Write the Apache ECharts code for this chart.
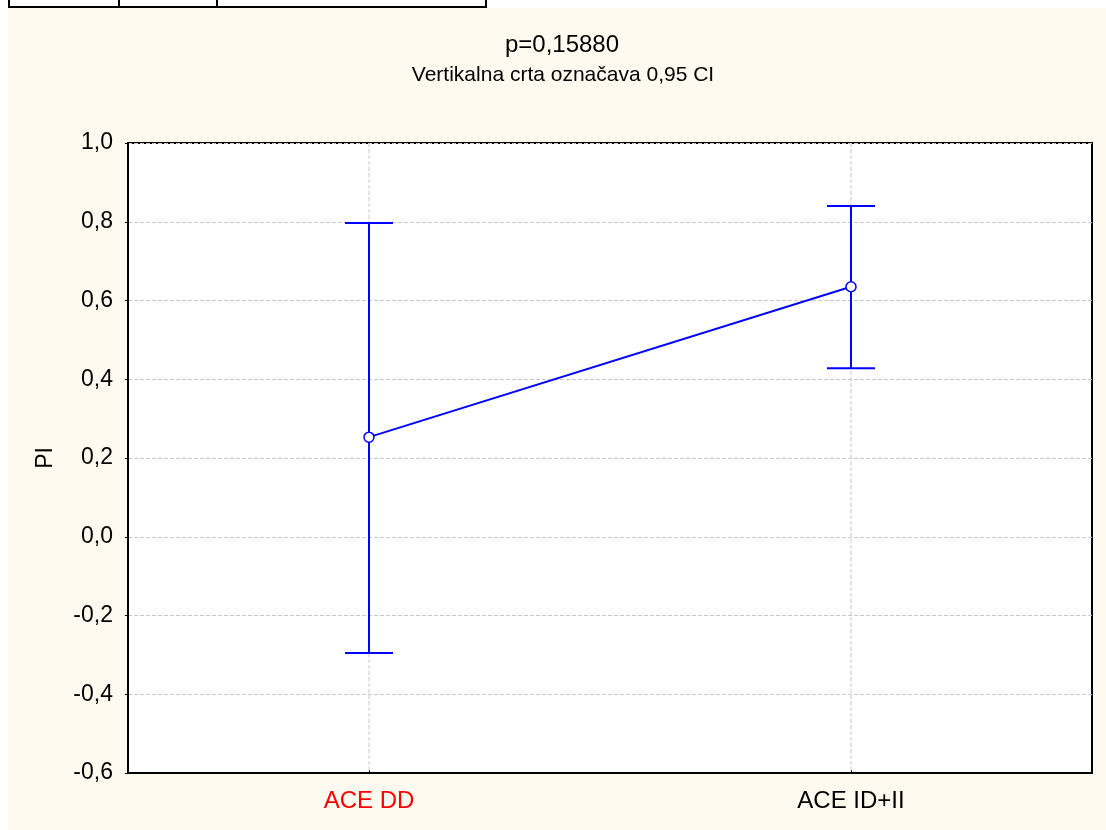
<!DOCTYPE html>
<html>
<head>
<meta charset="utf-8">
<script src="https://cdn.jsdelivr.net/npm/echarts@6/dist/echarts.min.js"></script>
<style>html,body{margin:0;padding:0;background:#fff;}#c{width:1106px;height:830px;}</style>
</head>
<body>
<div id="c"></div>
<script>
var categories = ['ACE DD', 'ACE ID+II'];
var means = [0.253, 0.635];
var lower = [-0.295, 0.428];
var upper = [0.797, 0.840];
var categoryColors = ['#ff0000', '#000000'];

var FONT = 'Liberation Sans, Arial, sans-serif';
var chart = echarts.init(document.getElementById('c'), null, {renderer: 'canvas'});

var errData = categories.map(function (c, i) { return [i, lower[i], upper[i]]; });
var GRID_LINE = {stroke: '#c8c8c8', lineWidth: 1, lineDash: [4, 2]};

chart.setOption({
  backgroundColor: '#ffffff',
  animation: false,
  title: [
    {text: 'p=0,15880', left: 557, top: 28, textAlign: 'center',
     textStyle: {fontFamily: FONT, fontSize: 24, fontWeight: 'normal', color: '#000'}},
    {text: 'Vertikalna crta označava 0,95 CI', left: 558, top: 60, textAlign: 'center',
     textStyle: {fontFamily: FONT, fontSize: 21, fontWeight: 'normal', color: '#000'}}
  ],
  graphic: [
    {type: 'rect', z: -100, silent: true, shape: {x: 8, y: 8, width: 1098, height: 822}, style: {fill: '#fffaf0'}},
    {type: 'polyline', silent: true, shape: {points: [[9, 0], [9, 7], [486, 7], [486, 0]]}, style: {stroke: '#000', lineWidth: 2, fill: null}},
    {type: 'line', silent: true, shape: {x1: 119, y1: 0, x2: 119, y2: 7}, style: {stroke: '#000', lineWidth: 2}},
    {type: 'line', silent: true, shape: {x1: 217, y1: 0, x2: 217, y2: 7}, style: {stroke: '#000', lineWidth: 2}}
  ],
  grid: {left: 128, right: 14, top: 143, bottom: 57, show: true, backgroundColor: '#ffffff', borderColor: '#000', borderWidth: 2},
  xAxis: {
    type: 'category',
    data: categories,
    boundaryGap: true,
    axisLine: {onZero: false, lineStyle: {color: '#000', width: 2}},
    axisTick: {show: true, alignWithLabel: true, inside: true, length: 3, lineStyle: {color: '#000'}},
    splitLine: {show: false},
    axisLabel: {
      margin: 16, fontFamily: FONT, fontSize: 24,
      color: function (v) { return categoryColors[categories.indexOf(v)] || '#000'; }
    }
  },
  yAxis: {
    type: 'value',
    min: -0.6, max: 1.0, interval: 0.2,
    name: 'PI', nameLocation: 'middle', nameGap: 71, nameRotate: 90,
    nameTextStyle: {fontFamily: FONT, fontSize: 23, color: '#000'},
    axisLine: {show: true, lineStyle: {color: '#000', width: 2}},
    axisTick: {show: true, inside: false, length: 3, lineStyle: {color: '#000'}},
    axisLabel: {
      margin: 15, fontFamily: FONT, fontSize: 23, color: '#000',
      formatter: function (v) { var s = (Math.abs(v) < 1e-9 ? 0 : v).toFixed(1); return s.replace('.', ','); }
    },
    splitLine: {show: true, lineStyle: {color: '#c8c8c8', type: [4, 2], width: 1}}
  },
  series: [
    {
      type: 'custom',
      z: 2,
      data: errData,
      renderItem: function (params, api) {
        var x = api.value(0);
        var lo = api.coord([x, api.value(1)]);
        var hi = api.coord([x, api.value(2)]);
        var cs = params.coordSys;
        var hw = 24;
        var st = {stroke: '#0000ff', lineWidth: 2};
        return {
          type: 'group',
          children: [
            {type: 'line', shape: {x1: hi[0], y1: cs.y, x2: hi[0], y2: cs.y + cs.height}, style: GRID_LINE},
            {type: 'line', shape: {x1: hi[0], y1: hi[1], x2: lo[0], y2: lo[1]}, style: st},
            {type: 'line', shape: {x1: hi[0] - hw, y1: hi[1], x2: hi[0] + hw, y2: hi[1]}, style: st},
            {type: 'line', shape: {x1: lo[0] - hw, y1: lo[1], x2: lo[0] + hw, y2: lo[1]}, style: st}
          ]
        };
      }
    },
    {
      type: 'line',
      z: 3,
      data: means,
      symbol: 'circle',
      symbolSize: 10,
      lineStyle: {color: '#0000ff', width: 2},
      itemStyle: {color: '#ffffff', borderColor: '#0000ff', borderWidth: 1.5}
    }
  ]
});
</script>
</body>
</html>
